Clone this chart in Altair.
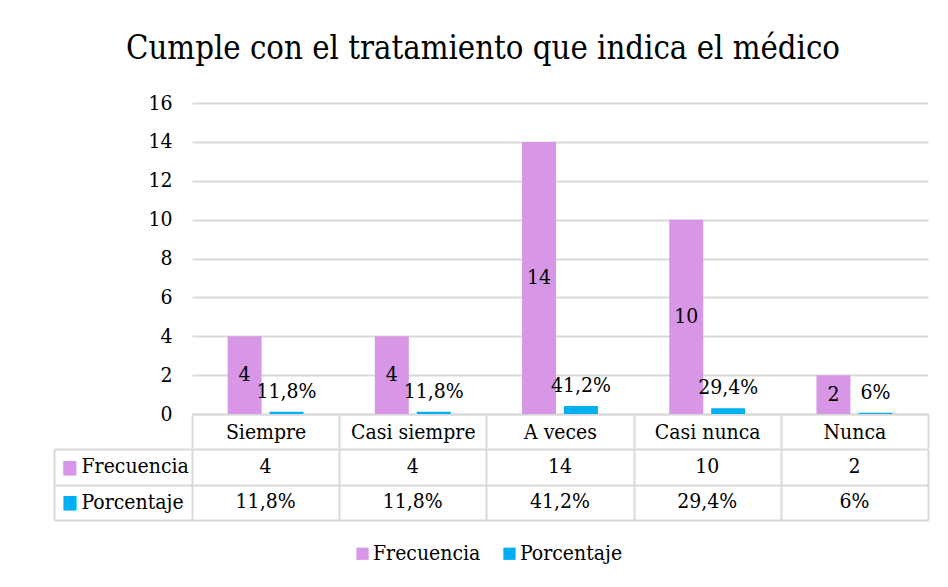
import altair as alt
import pandas as pd

# ---- data ----
categorias = ["Siempre", "Casi siempre", "A veces", "Casi nunca", "Nunca"]
series = ["Frecuencia", "Porcentaje"]
frecuencia = [4, 4, 14, 10, 2]
porcentaje = [11.8, 11.8, 41.2, 29.4, 6.0]
etiquetas_frecuencia = ["4", "4", "14", "10", "2"]
etiquetas_porcentaje = ["11,8%", "11,8%", "41,2%", "29,4%", "6%"]
y_ticks = [0, 2, 4, 6, 8, 10, 12, 14, 16]
colores = ["#D897E6", "#00B0F0"]
titulo = "Cumple con el tratamiento que indica el médico"

rows = []
for i, c in enumerate(categorias):
    rows.append({"categoria": c, "serie": "Frecuencia", "valor": frecuencia[i],
                 "etiqueta": etiquetas_frecuencia[i]})
    rows.append({"categoria": c, "serie": "Porcentaje", "valor": porcentaje[i] / 100,
                 "etiqueta": etiquetas_porcentaje[i]})
df = pd.DataFrame(rows)

GRID = "#D9D9D9"
FONT = "DejaVu Serif Condensed"
FS = 21
W = 736
H = 311

# ---- top chart (bars) ----
x_scale = alt.Scale(domain=categorias, paddingInner=0, paddingOuter=0)
x_top = alt.X("categoria:N", sort=categorias, scale=x_scale,
              axis=alt.Axis(title=None, labelAngle=0, labelFontSize=FS, labelFont=FONT,
                            labelColor="black", labelPadding=-27, labelBaseline="top",
                            ticks=True, tickBand="extent", tickSize=34, tickColor=GRID,
                            tickWidth=2, domain=True, domainColor=GRID, domainWidth=2,
                            grid=False))
y_scale = alt.Scale(domain=[0, 16], nice=False)
y_axis = alt.Axis(title=None, values=y_ticks, labelFontSize=FS, labelFont=FONT,
                  labelColor="black", labelPadding=20, ticks=False, domain=False,
                  grid=True, gridColor=GRID, gridWidth=2)
xoff = alt.XOffset("serie:N", sort=series,
                   scale=alt.Scale(domain=series, paddingInner=0.19, paddingOuter=0.85))

base = alt.Chart(df)
bars = base.mark_bar().encode(
    x=x_top,
    xOffset=xoff,
    y=alt.Y("valor:Q", scale=y_scale, axis=y_axis),
    color=alt.Color("serie:N", sort=series,
                    scale=alt.Scale(domain=series, range=colores),
                    legend=alt.Legend(orient="none", direction="horizontal", title=None,
                                      legendX=160, legendY=440,
                                      symbolType="square", symbolSize=150,
                                      symbolStrokeWidth=0, labelFontSize=FS,
                                      labelFont=FONT, labelColor="black",
                                      columnPadding=18, labelOffset=0, padding=0)),
)
lab_frec = base.transform_filter(alt.datum.serie == "Frecuencia").transform_calculate(
    mitad="datum.valor / 2"
).mark_text(font=FONT, fontSize=FS, baseline="middle", color="black").encode(
    x=x_top, xOffset=xoff,
    y=alt.Y("mitad:Q", scale=y_scale, axis=y_axis),
    text="etiqueta:N",
)
lab_pct = base.transform_filter(alt.datum.serie == "Porcentaje").mark_text(
    font=FONT, fontSize=FS, baseline="bottom", dy=-10, color="black"
).encode(
    x=x_top, xOffset=xoff,
    y=alt.Y("valor:Q", scale=y_scale, axis=y_axis),
    text="etiqueta:N",
)
top = alt.layer(bars, lab_frec, lab_pct).properties(width=W, height=H)

# ---- bottom chart (data table) ----
x_bot = alt.X("categoria:N", sort=categorias, scale=x_scale,
              axis=alt.Axis(title=None, labels=False, ticks=False, domain=False,
                            grid=True, tickBand="extent", gridColor=GRID, gridWidth=2))
row_scale = alt.Scale(domain=series, paddingInner=0, paddingOuter=0)
y_bot = alt.Y("serie:N", sort=series, scale=row_scale,
              axis=alt.Axis(title=None, orient="left", labelAlign="left", labelPadding=-27,
                            labelFontSize=FS, labelFont=FONT, labelColor="black",
                            labelBaseline="middle",
                            ticks=True, tickBand="extent", tickSize=138, tickColor=GRID,
                            tickWidth=2, domain=False, grid=True, gridColor=GRID,
                            gridWidth=2))
y_keys = alt.Y("serie:N", sort=series, scale=row_scale,
               axis=alt.Axis(title=None, orient="left", offset=138, domain=True,
                             domainColor=GRID, domainWidth=2, ticks=False, grid=False,
                             labelExpr="'■'", labelAlign="left", labelPadding=-7,
                             labelFontSize=19, labelFont=FONT, labelBaseline="middle",
                             labelColor={"condition": {"test": "datum.value === 'Frecuencia'",
                                                       "value": colores[0]},
                                         "value": colores[1]}))
cells = alt.Chart(df).mark_text(font=FONT, fontSize=FS, baseline="middle",
                                color="black").encode(
    x=x_bot, y=y_bot, text="etiqueta:N")
keys = alt.Chart(df).mark_point(opacity=0, size=1).encode(x=x_bot, y=y_keys)
bottom = alt.layer(cells, keys).resolve_axis(y="independent").properties(width=W, height=71)

chart = alt.vconcat(top, bottom, spacing=-13).properties(
    title=alt.TitleParams(text=titulo, font=FONT, fontSize=32.6, fontWeight="normal",
                          color="black", anchor="middle", offset=26, dx=-8),
    padding={"left": 45, "top": 25, "right": 5, "bottom": 5},
).configure_view(stroke=None)

chart.save("out.html", embed_options={"renderer": "svg", "actions": False})
